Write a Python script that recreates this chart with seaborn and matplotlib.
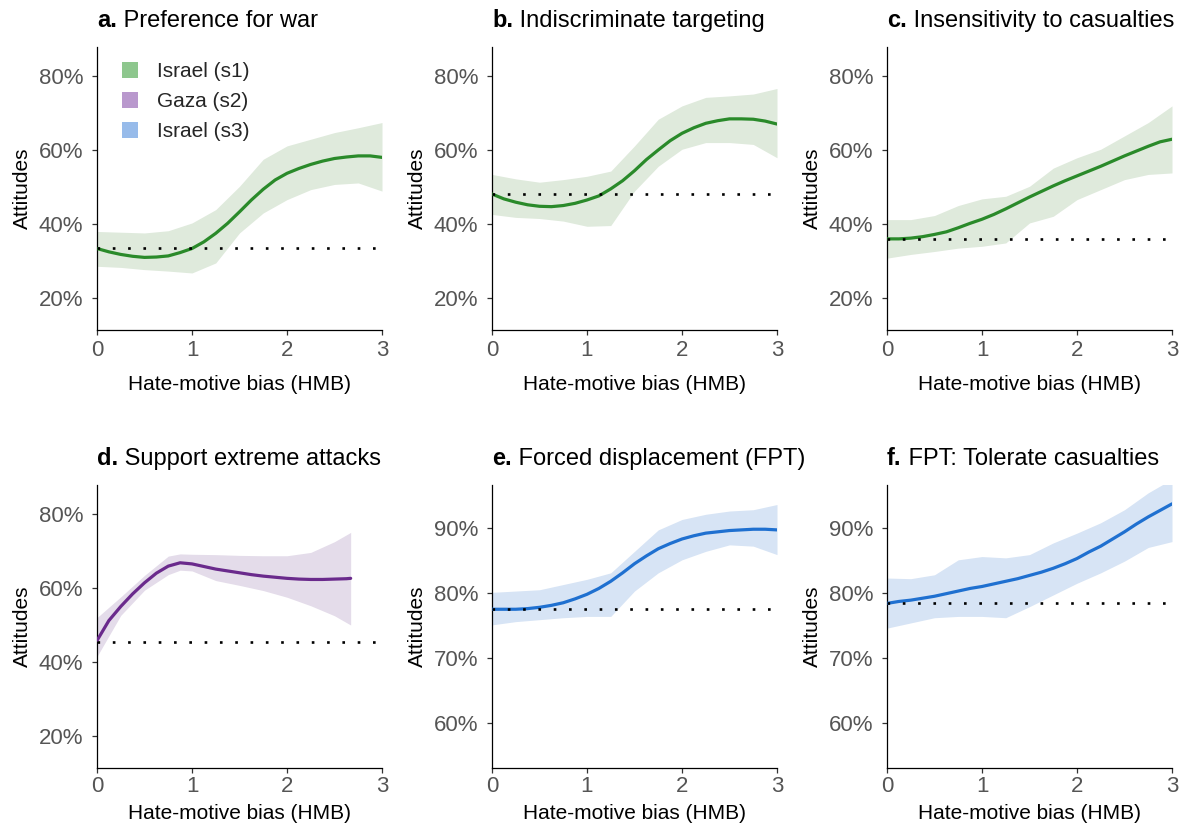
import numpy as np
import pandas as pd
import matplotlib
matplotlib.use("Agg")
import matplotlib.pyplot as plt
from matplotlib.patches import Patch
import seaborn as sns

# ---------------- data ----------------
# fitted curves, read every 0.125 HMB
X_LINE = [0, 0.125, 0.25, 0.375, 0.5, 0.625, 0.75, 0.875, 1, 1.125, 1.25, 1.375, 1.5,
          1.625, 1.75, 1.875, 2, 2.125, 2.25, 2.375, 2.5, 2.625, 2.75, 2.875, 3]
X_LINE_D = [0, 0.125, 0.25, 0.375, 0.5, 0.625, 0.75, 0.875, 1, 1.125, 1.25, 1.375, 1.5,
            1.625, 1.75, 1.875, 2, 2.125, 2.25, 2.375, 2.5, 2.625, 2.67]

a_mid = [33.4, 32.5, 31.8, 31.3, 31.0, 31.1, 31.4, 32.3, 33.4, 35.2, 37.5, 40.2, 43.3,
         46.5, 49.4, 51.9, 53.7, 55.0, 56.1, 57.0, 57.7, 58.1, 58.4, 58.4, 58.0]
b_mid = [48.1, 46.8, 45.9, 45.2, 44.8, 44.7, 45.0, 45.6, 46.5, 47.6, 49.5, 51.7, 54.4,
         57.4, 60.0, 62.5, 64.5, 66.0, 67.2, 67.9, 68.4, 68.4, 68.3, 67.8, 67.0]
c_mid = [36.0, 36.0, 36.2, 36.6, 37.2, 37.9, 39.0, 40.2, 41.3, 42.6, 44.1, 45.7, 47.3,
         48.8, 50.3, 51.7, 53.0, 54.3, 55.6, 57.0, 58.4, 59.7, 61.0, 62.2, 62.9]
d_mid = [45.8, 51.2, 55.0, 58.4, 61.4, 64.0, 65.9, 66.8, 66.5, 65.8, 65.1, 64.6, 64.1,
         63.6, 63.2, 62.9, 62.6, 62.4, 62.3, 62.3, 62.4, 62.5, 62.6]
e_mid = [77.5, 77.5, 77.5, 77.6, 77.8, 78.1, 78.5, 79.1, 79.8, 80.7, 81.8, 83.1, 84.5,
         85.7, 86.8, 87.6, 88.3, 88.8, 89.2, 89.4, 89.6, 89.7, 89.8, 89.8, 89.7]
f_mid = [78.4, 78.7, 78.9, 79.2, 79.5, 79.9, 80.3, 80.7, 81.0, 81.4, 81.8, 82.2, 82.7,
         83.2, 83.8, 84.5, 85.3, 86.3, 87.2, 88.3, 89.4, 90.6, 91.7, 92.7, 93.7]

# confidence bands, read every 0.25 HMB
X_BAND = [0, 0.25, 0.5, 0.75, 1, 1.25, 1.5, 1.75, 2, 2.25, 2.5, 2.75, 3]
X_BAND_D = [0, 0.25, 0.5, 0.75, 0.875, 1, 1.25, 1.5, 1.75, 2, 2.25, 2.5, 2.67]

a_hi = [38.0, 37.8, 37.6, 38.2, 40.3, 43.9, 50.2, 57.5, 61.1, 62.9, 64.7, 66.0, 67.4]
a_lo = [28.6, 28.3, 27.7, 27.3, 26.8, 29.5, 37.6, 43.0, 46.6, 49.3, 50.7, 51.1, 48.9]
b_hi = [53.4, 52.2, 51.3, 52.0, 52.9, 54.3, 61.1, 68.3, 71.9, 74.2, 74.6, 75.1, 76.6]
b_lo = [42.6, 41.8, 41.5, 40.8, 39.4, 39.6, 48.9, 55.6, 60.2, 62.0, 62.0, 61.5, 57.9]
c_hi = [41.2, 41.2, 42.3, 45.0, 46.8, 47.5, 50.2, 55.1, 57.9, 60.2, 63.8, 67.4, 71.9]
c_lo = [30.8, 31.8, 32.6, 33.5, 34.0, 34.9, 40.3, 42.1, 46.6, 49.3, 52.0, 53.4, 53.8]
d_hi = [52.0, 57.6, 63.4, 68.6, 69.2, 69.1, 69.0, 68.8, 68.7, 68.7, 69.6, 72.5, 75.0]
d_lo = [41.5, 52.6, 59.4, 63.6, 64.8, 64.6, 62.0, 60.7, 59.3, 57.5, 55.2, 52.5, 50.0]
e_hi = [80.1, 80.3, 80.5, 81.3, 82.1, 83.1, 86.4, 89.7, 91.3, 92.1, 92.6, 92.8, 93.6]
e_lo = [75.1, 75.6, 75.9, 76.2, 76.4, 76.4, 80.3, 83.1, 85.1, 86.4, 87.4, 87.2, 85.9]
f_hi = [82.3, 82.2, 82.8, 85.1, 85.6, 85.4, 85.9, 87.7, 89.2, 90.8, 92.8, 95.4, 97.5]
f_lo = [74.6, 75.4, 76.2, 76.4, 76.4, 76.2, 77.9, 79.7, 81.5, 83.1, 84.9, 87.0, 87.9]

baselines = [33.5, 48.0, 36.1, 45.5, 77.5, 78.4]

letters = ["a.", "b.", "c.", "d.", "e.", "f."]
titles = ["Preference for war", "Indiscriminate targeting", "Insensitivity to casualties",
          "Support extreme attacks", "Forced displacement (FPT)", "FPT: Tolerate casualties"]
samples = ["Israel (s1)", "Israel (s1)", "Israel (s1)", "Gaza (s2)", "Israel (s3)", "Israel (s3)"]

legend_labels = ["Israel (s1)", "Gaza (s2)", "Israel (s3)"]
ticks_low = [20, 40, 60, 80]
ticks_high = [60, 70, 80, 90]
x_ticks = [0, 1, 2, 3]

# ---------------- style ----------------
line_col = {"Israel (s1)": "#2a8a2a", "Gaza (s2)": "#6a2a8c", "Israel (s3)": "#1f70d0"}
band_col = {"Israel (s1)": "#dfeadc", "Gaza (s2)": "#e4dcea", "Israel (s3)": "#d7e4f5"}
leg_col = {"Israel (s1)": "#8ec78e", "Gaza (s2)": "#b998cd", "Israel (s3)": "#97bbea"}

sns.set_theme(style="white")
plt.rcParams["font.family"] = ["Liberation Sans", "DejaVu Sans"]

fig = plt.figure(figsize=(11.95, 8.31), dpi=100)
W, H = 1195.0, 831.0
lefts = [97, 492, 887]
rows = [(47, 330), (485, 768)]
x_pads = [3.5, 2.0]
x_labelpads = [10, 5.5]

panels = [
    (X_LINE, a_mid, X_BAND, a_hi, a_lo),
    (X_LINE, b_mid, X_BAND, b_hi, b_lo),
    (X_LINE, c_mid, X_BAND, c_hi, c_lo),
    (X_LINE_D, d_mid, X_BAND_D, d_hi, d_lo),
    (X_LINE, e_mid, X_BAND, e_hi, e_lo),
    (X_LINE, f_mid, X_BAND, f_hi, f_lo),
]

for i, (xl, mid, xb, hi, lo) in enumerate(panels):
    r, c = divmod(i, 3)
    top, bot = rows[r]
    ax = fig.add_axes([lefts[c] / W, 1 - bot / H, 285 / W, (bot - top) / H])
    s = samples[i]
    band = pd.DataFrame({"x": xb, "hi": hi, "lo": lo})
    line = pd.DataFrame({"x": xl, "mid": mid})
    ax.fill_between(band["x"], band["lo"], band["hi"], color=band_col[s], lw=0, zorder=1)
    sns.lineplot(data=line, x="x", y="mid", ax=ax, color=line_col[s], lw=2.3, zorder=3)
    ax.plot([0, 3], [baselines[i]] * 2, color="black", lw=1.9,
            linestyle=(0, (1, 4.8)), zorder=4)

    ax.set_xlim(0, 3)
    if i < 4:
        ax.set_ylim(11.4, 87.8)
        ax.set_yticks(ticks_low)
        ax.set_yticklabels([f"{t}%" for t in ticks_low])
    else:
        ax.set_ylim(53.1, 96.6)
        ax.set_yticks(ticks_high)
        ax.set_yticklabels([f"{t}%" for t in ticks_high])
    ax.set_xticks(x_ticks)
    ax.set_xticklabels([str(t) for t in x_ticks])

    for side in ["top", "right"]:
        ax.spines[side].set_visible(False)
    for side in ["left", "bottom"]:
        ax.spines[side].set_color("black")
        ax.spines[side].set_linewidth(0.9)
    ax.tick_params(axis="both", which="major", direction="out", length=3.5, width=0.9,
                   color="#333333", labelsize=16, labelcolor="#555555",
                   left=True, bottom=True)
    ax.tick_params(axis="y", pad=6.5)
    ax.tick_params(axis="x", pad=x_pads[r])
    ax.set_xlabel("Hate-motive bias (HMB)", fontsize=15, color="black",
                  labelpad=x_labelpads[r])
    ax.set_ylabel("Attitudes", fontsize=15, color="black", labelpad=5)

    ty = 1.0 + 20 / (bot - top)
    t1 = ax.text(0.0, ty, letters[i], transform=ax.transAxes, fontsize=17,
                 fontweight="bold", ha="left", va="baseline", color="black")
    ax.annotate(" " + titles[i], xy=(1, 0), xycoords=t1, fontsize=17,
                ha="left", va="bottom", color="black")

    if i == 0:
        handles = [Patch(facecolor=leg_col[l], edgecolor="none") for l in legend_labels]
        ax.legend(handles, legend_labels, loc="upper left",
                  bbox_to_anchor=(25 / 285, 1 - 15 / 283),
                  frameon=False, fontsize=15, handlelength=0.78, handleheight=0.78,
                  handletextpad=0.9, labelspacing=0.52, borderaxespad=0, borderpad=0)

fig.savefig("out.png", dpi=100)
